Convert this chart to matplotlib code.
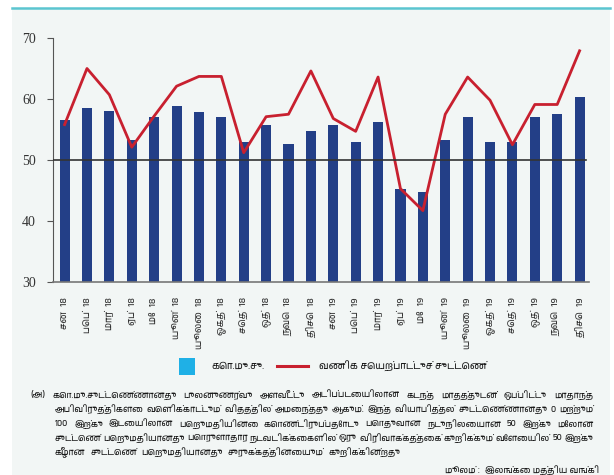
import matplotlib
matplotlib.use("Agg")
import matplotlib.pyplot as plt
from matplotlib import font_manager
from matplotlib.ft2font import FT2Font
from matplotlib.patches import Rectangle
from matplotlib.lines import Line2D
import numpy as np

## Data
months = ["சன", "பெப்", "மார்", "ஏப்", "மே", "யூன்", "யூலை", "ஓகத்", "செத்", "ஒத்", "நவெ", "திசெ"]
years = ["18", "19"]
pmi = [56.6, 58.5, 58.1, 53.3, 57.0, 58.8, 57.8, 57.1, 53.0, 55.7, 52.7, 54.8,
       55.8, 53.0, 56.3, 45.3, 44.7, 53.2, 57.1, 53.0, 52.9, 57.0, 57.5, 60.3]
bai = [55.8, 65.0, 60.7, 52.1, 57.2, 62.1, 63.7, 63.7, 51.2, 57.1, 57.5, 64.6,
       56.8, 54.7, 63.6, 45.3, 41.7, 57.5, 63.6, 59.8, 52.5, 59.1, 59.1, 67.9]
xlabels = [m + "  " + y for y in years for m in months]
yticks = [30, 40, 50, 60, 70]

legend_labels = ["கொ.மு.சு.", "வணிக செயற்பாட்டுச் சுட்டெண்"]
note_lines = [
    "(அ) கொ.மு.சுட்டெண்ணானது புலனுணர்வு அளவீட்டு அடிப்படையிலான கடந்த மாதத்துடன் ஒப்பிட்டு மாதாந்த",
    "அபிவிருத்திகளை வெளிக்காட்டும் விதத்தில் அமைந்தது ஆகும். இந்த வியாபித்தல் சுட்டெண்ணானது 0 மற்றும்",
    "100 இற்கு இடையிலான பெறுமதியினை கொண்டிருப்பதோடு பொதுவான நடுநிலையான 50 இற்கு மேலான",
    "சுட்டெண் பெறுமதியானது பொருளாதார நடவடிக்கைகளில் ஒரு விரிவாக்கத்தைக் குறிக்கும் வேளையில் 50 இற்கு",
    "கீழான சுட்டெண் பெறுமதியானது சுருக்கத்தினையும் குறிக்கின்றது",
]
source_head = "மூலம் :"
source_text = "இலங்கை மத்திய வங்கி"

## find a font that has tamil glyphs
tamil_font = None
for fe in font_manager.fontManager.ttflist:
    if "Tamil" in fe.name:
        tamil_font = fe.name
        break
if tamil_font is None:
    for fe in font_manager.fontManager.ttflist:
        try:
            if 0x0B95 in FT2Font(fe.fname).get_charmap():
                tamil_font = fe.name
                break
        except Exception:
            continue
tfam = [tamil_font, "DejaVu Sans"] if tamil_font else ["DejaVu Sans"]

bg = "#f2f6f5"
navy = "#233f87"
red = "#c8202f"
txt = "#1a1a1a"
W, H = 614, 475

fig = plt.figure(figsize=(6.14, 4.75), dpi=100)
fig.patch.set_facecolor("white")
renderer = fig.canvas.get_renderer()

def fx(px):
    return px / W

def fy(py):
    return 1 - py / H

# panel and top rule
fig.patches.append(Rectangle((fx(12), 0), 598 / W, fy(9), transform=fig.transFigure,
                             facecolor=bg, edgecolor="none", zorder=-5))
fig.add_artist(Line2D([fx(12), fx(610)], [fy(8), fy(8)], color="#5bc5d0", lw=1.8))

ax = fig.add_axes([fx(52.5), fy(282), (589 - 52.5) / W, (282 - 38) / H])
ax.set_zorder(2)
ax.set_facecolor(bg)
x = np.arange(len(pmi))
ax.bar(x, pmi, width=0.45, color=navy, zorder=2)
ax.plot(x, bai, color=red, lw=2.0, zorder=3)
ax.axhline(50, xmin=0, xmax=(586 - 52.5) / (589 - 52.5), color="#333333", lw=1.2, zorder=4)

ax.set_ylim(30, 70)
ax.set_xlim(-0.54, 23.42)
ax.set_yticks(yticks)
ax.set_yticklabels([str(t) for t in yticks], family="Liberation Serif", fontsize=10, color="#333333")
ax.set_xticks(x)
ax.set_xticklabels(xlabels, rotation=90, family=tfam, fontsize=6.8, color="#333333")
ax.tick_params(axis="x", length=0, pad=11)
ax.tick_params(axis="y", length=4, color="#555555", pad=8)
for s in ["top", "right"]:
    ax.spines[s].set_visible(False)
ax.spines["left"].set_color("#555555")
ax.spines["bottom"].set_color("#777777")
ax.spines["bottom"].set_linewidth(1.2)

## legend drawn by hand to match the reference spacing
ly = 366
fig.patches.append(Rectangle((fx(179), fy(374.5)), 16 / W, 17 / H, transform=fig.transFigure,
                             facecolor="#1fb0e6", edgecolor="none", zorder=3))
fig.add_artist(Line2D([fx(277), fx(308)], [fy(ly), fy(ly)], color=red, lw=2.2))
t_probe = fig.text(0, 0, legend_labels[1], family=tfam, fontsize=8)
leg_fs = 8 * 168 / t_probe.get_window_extent(renderer).width
t_probe.remove()
fig.text(fx(211), fy(ly), legend_labels[0], family=tfam, fontsize=leg_fs, color=txt,
         va="center", ha="left")
fig.text(fx(319), fy(ly), legend_labels[1], family=tfam, fontsize=leg_fs, color=txt,
         va="center", ha="left")

## notes, justified line by line, font size fitted to the tightest line
ys = [395, 409, 424, 438, 452]
x_right = 593
fs0 = 8.0
fit = []
for i, line in enumerate(note_lines[:-1]):
    x0 = 30.5 if i == 0 else 55
    words = line.split(" ")
    objs = [fig.text(0, 0, w, family=tfam, fontsize=fs0) for w in words]
    total = sum(o.get_window_extent(renderer).width for o in objs)
    for o in objs:
        o.remove()
    min_gap = 2.0 * (len(words) - 1)
    fit.append((x_right - x0 - min_gap) / total)
fs = fs0 * min(min(fit), 1.0)

for i, line in enumerate(note_lines):
    x0 = 30.5 if i == 0 else 55
    words = line.split(" ")
    objs = [fig.text(0, fy(ys[i]), w, family=tfam, fontsize=fs, color=txt,
                     va="center", ha="left") for w in words]
    widths = [o.get_window_extent(renderer).width for o in objs]
    if i < len(note_lines) - 1:
        gap = (x_right - x0 - sum(widths)) / (len(words) - 1)
    else:
        gap = fs * 0.75
    xp = x0
    for o, wd in zip(objs, widths):
        o.set_x(fx(xp))
        xp += wd + gap

t_src = fig.text(fx(599), fy(470), source_text, family=tfam, fontsize=fs, color=txt,
                 va="center", ha="right")
src_w = t_src.get_window_extent(renderer).width
fig.text(fx(599 - src_w - 5), fy(470), source_head, family=tfam, fontsize=fs,
         color=txt, va="center", ha="right", style="italic")

fig.savefig("out.png", dpi=100, facecolor="white")
